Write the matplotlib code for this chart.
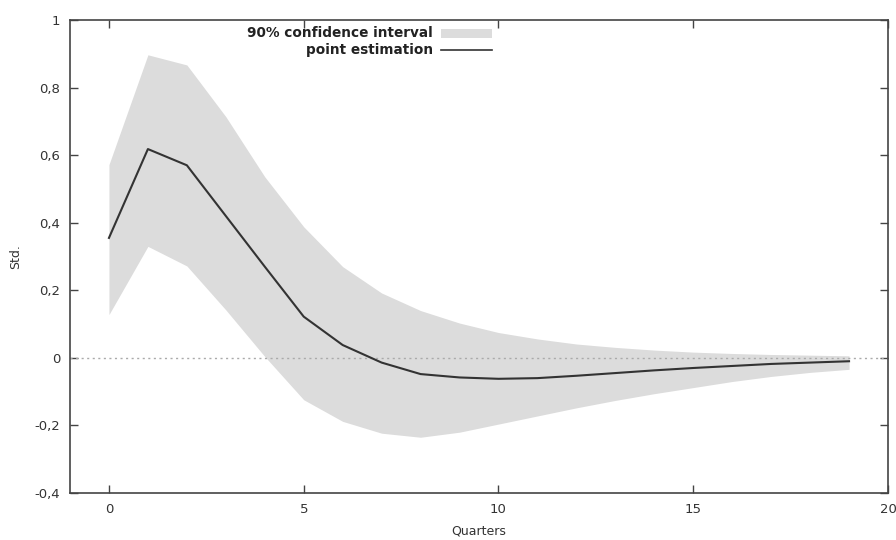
import matplotlib
matplotlib.use("Agg")
import matplotlib.pyplot as plt
from matplotlib.patches import Rectangle
from matplotlib.lines import Line2D
from matplotlib.ticker import FuncFormatter

quarters = list(range(20))
point_estimate = [0.355, 0.618, 0.570, 0.420, 0.270, 0.122, 0.038, -0.014, -0.048, -0.058,
                  -0.062, -0.060, -0.053, -0.045, -0.037, -0.030, -0.024, -0.018, -0.014, -0.010]
upper_90 = [0.572, 0.897, 0.867, 0.714, 0.536, 0.388, 0.270, 0.192, 0.140, 0.103,
            0.075, 0.056, 0.041, 0.031, 0.023, 0.017, 0.013, 0.010, 0.008, 0.006]
lower_90 = [0.128, 0.330, 0.272, 0.142, 0.004, -0.124, -0.188, -0.223, -0.235, -0.220,
            -0.196, -0.172, -0.148, -0.126, -0.106, -0.088, -0.070, -0.055, -0.043, -0.034]

x_ticks = [0, 5, 10, 15, 20]
y_ticks = [-0.4, -0.2, 0, 0.2, 0.4, 0.6, 0.8, 1]

band_color = "#dcdcdc"
line_color = "#333333"
text_color = "#333333"

plt.rcParams["font.family"] = "DejaVu Sans"

fig = plt.figure(figsize=(8.96, 5.4), dpi=100)
ax = fig.add_axes([70 / 896, 1 - 493 / 540, 818 / 896, 473 / 540])

ax.fill_between(quarters, lower_90, upper_90, color=band_color, linewidth=0)
ax.axhline(0.0, color="#aaaaaa", linewidth=1.0, linestyle=(0, (1.5, 2.5)))
ax.plot(quarters, point_estimate, color=line_color, linewidth=1.5)

ax.set_xlim(-1, 20)
ax.set_ylim(-0.4, 1.0)
ax.set_xticks(x_ticks)
ax.set_yticks(y_ticks)


def comma_fmt(v, _pos):
    if abs(v) < 1e-9:
        return "0"
    return f"{v:g}".replace(".", ",")


ax.yaxis.set_major_formatter(FuncFormatter(comma_fmt))
ax.tick_params(direction="in", length=6, width=1.0, color="#444444",
               top=True, right=True, labelsize=9.5, labelcolor=text_color, pad=7)
for spine in ax.spines.values():
    spine.set_color("#444444")
    spine.set_linewidth(1.2)

ax.set_xlabel("Quarters", fontsize=9, color=text_color, labelpad=6)
ax.set_ylabel("Std.", fontsize=9, color=text_color, labelpad=9)

# legend drawn by hand: labels right-aligned, key to the right
legend_rows = [("90% confidence interval", 0.972), ("point estimation", 0.937)]
for label, ypos in legend_rows:
    ax.text(0.444, ypos, label, transform=ax.transAxes, ha="right", va="center",
            fontsize=9.8, color="#222222", fontweight="bold")
ax.add_patch(Rectangle((0.453, 0.972 - 0.009), 0.063, 0.018, transform=ax.transAxes,
                       facecolor=band_color, edgecolor="none"))
ax.add_line(Line2D([0.453, 0.516], [0.937, 0.937], transform=ax.transAxes,
                   color=line_color, linewidth=1.2))

fig.savefig("out.png", dpi=100)
